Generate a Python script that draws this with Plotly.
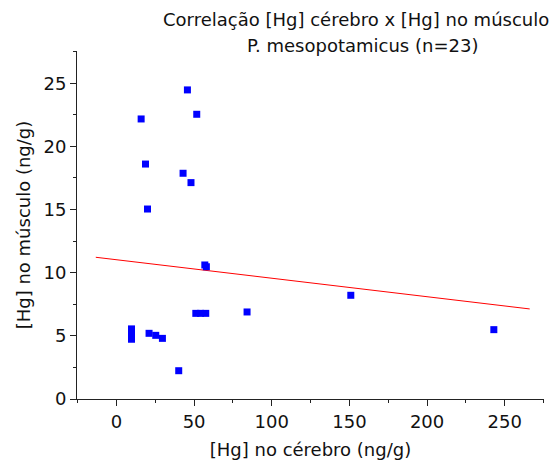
import plotly.graph_objects as go

# Data
brain_hg = [45.7, 51.7, 15.9, 18.7, 42.9, 48.0, 20.0,
            56.9, 57.9,
            9.7, 9.7, 9.7, 21.0, 25.3, 29.6, 40.1,
            51.1, 54.1, 57.5, 84.1,
            150.9, 243.0]
muscle_hg = [24.47, 22.54, 22.17, 18.6, 17.87, 17.13, 15.04,
             10.61, 10.47,
             5.55, 5.1, 4.73, 5.2, 5.04, 4.8, 2.24,
             6.78, 6.78, 6.78, 6.89,
             8.21, 5.49]

# Linear fit line endpoints
fit_x = [-13.3, 266.1]
fit_y = [11.22, 7.13]

x_ticks = [0, 50, 100, 150, 200, 250]
y_ticks = [0, 5, 10, 15, 20, 25]

title_line1 = "Correlação [Hg] cérebro x [Hg] no músculo"
title_line2 = "P. mesopotamicus (n=23)"
x_title = "[Hg] no cérebro (ng/g)"
y_title = "[Hg] no músculo (ng/g)"

FONT = "DejaVu Sans, Liberation Sans, Arial, sans-serif"
TXT = "#111111"

fig = go.Figure()
fig.add_trace(go.Scatter(x=fit_x, y=fit_y, mode="lines",
                         line=dict(color="#ff0000", width=1),
                         showlegend=False, hoverinfo="skip"))
fig.add_trace(go.Scatter(x=brain_hg, y=muscle_hg, mode="markers",
                         marker=dict(symbol="square", size=7, color="#0000ff",
                                     line=dict(width=0)),
                         showlegend=False))

axis_common = dict(
    showgrid=False, zeroline=False, showline=True, linecolor="#222222",
    linewidth=1, ticks="outside", ticklen=6, tickwidth=1, tickcolor="#222222",
    tickfont=dict(family=FONT, size=18, color=TXT),
)

fig.update_xaxes(range=[-25.4, 275.3], tickvals=x_ticks,
                 minor=dict(dtick=25, tick0=0, ticks="outside", ticklen=3,
                            tickwidth=1, tickcolor="#222222"),
                 title=dict(text=x_title, font=dict(family=FONT, size=18, color=TXT),
                            standoff=12),
                 **axis_common)
fig.update_yaxes(range=[0, 27.55], tickvals=y_ticks,
                 minor=dict(dtick=2.5, tick0=0, ticks="outside", ticklen=3,
                            tickwidth=1, tickcolor="#222222"),
                 title=dict(text=y_title, font=dict(family=FONT, size=18, color=TXT),
                            standoff=8),
                 **axis_common)

fig.add_annotation(text=title_line1, xref="paper", yref="paper",
                   x=1.0143, y=1.090, xanchor="right", yanchor="middle",
                   showarrow=False, font=dict(family=FONT, size=18, color=TXT))
fig.add_annotation(text=title_line2, xref="paper", yref="paper",
                   x=0.862, y=1.016, xanchor="right", yanchor="middle",
                   showarrow=False, font=dict(family=FONT, size=18, color=TXT))

fig.update_layout(
    width=555, height=470,
    margin=dict(l=77, r=11, t=51, b=71),
    plot_bgcolor="white", paper_bgcolor="white",
    font=dict(family=FONT, size=18, color=TXT),
)

fig.write_html("out.html")
